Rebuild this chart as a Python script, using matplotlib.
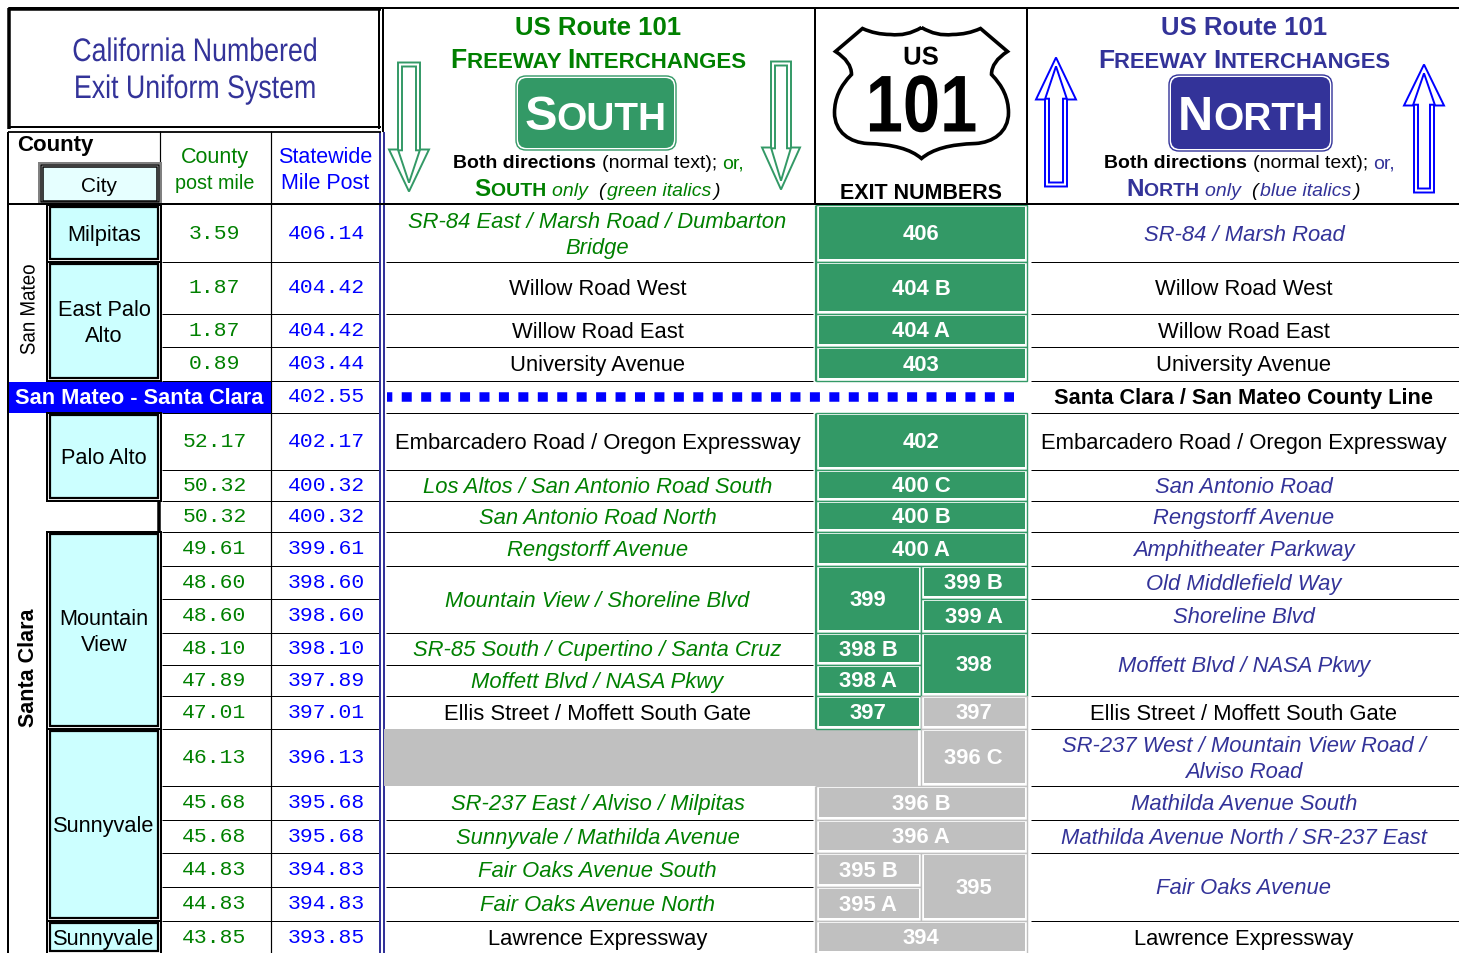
import matplotlib
matplotlib.use("Agg")
import matplotlib.pyplot as plt
import matplotlib.patheffects as pe
from matplotlib.patches import Rectangle, FancyBboxPatch, PathPatch, Polygon
from matplotlib.path import Path
from matplotlib.transforms import Affine2D

plt.rcParams['font.family'] = ['Liberation Sans', 'DejaVu Sans']
MONO = ['Liberation Mono', 'DejaVu Sans Mono']

GREEN = '#008000'
SIGN_GREEN = '#339966'
NAVY = '#333399'
BLUE = '#0000FF'
GRAY = '#C0C0C0'
CYAN = '#CCFFFF'

# table data, one entry per row
county_pm = ['3.59', '1.87', '1.87', '0.89', '', '52.17', '50.32', '50.32', '49.61', '48.60',
             '48.60', '48.10', '47.89', '47.01', '46.13', '45.68', '45.68', '44.83', '44.83', '43.85']
state_pm = ['406.14', '404.42', '404.42', '403.44', '402.55', '402.17', '400.32', '400.32', '399.61', '398.60',
            '398.60', '398.10', '397.89', '397.01', '396.13', '395.68', '395.68', '394.83', '394.83', '393.85']

# (first row, last row, text, colour)
south_labels = [
    (0, 0, 'SR-84 East / Marsh Road / Dumbarton\nBridge', 'g'),
    (1, 1, 'Willow Road West', 'k'),
    (2, 2, 'Willow Road East', 'k'),
    (3, 3, 'University Avenue', 'k'),
    (5, 5, 'Embarcadero Road / Oregon Expressway', 'k'),
    (6, 6, 'Los Altos / San Antonio Road South', 'g'),
    (7, 7, 'San Antonio Road North', 'g'),
    (8, 8, 'Rengstorff Avenue', 'g'),
    (9, 10, 'Mountain View / Shoreline Blvd', 'g'),
    (11, 11, 'SR-85 South / Cupertino / Santa Cruz', 'g'),
    (12, 12, 'Moffett Blvd / NASA Pkwy', 'g'),
    (13, 13, 'Ellis Street / Moffett South Gate', 'k'),
    (15, 15, 'SR-237 East / Alviso / Milpitas', 'g'),
    (16, 16, 'Sunnyvale / Mathilda Avenue', 'g'),
    (17, 17, 'Fair Oaks Avenue South', 'g'),
    (18, 18, 'Fair Oaks Avenue North', 'g'),
    (19, 19, 'Lawrence Expressway', 'k'),
]
north_labels = [
    (0, 0, 'SR-84 / Marsh Road', 'b'),
    (1, 1, 'Willow Road West', 'k'),
    (2, 2, 'Willow Road East', 'k'),
    (3, 3, 'University Avenue', 'k'),
    (5, 5, 'Embarcadero Road / Oregon Expressway', 'k'),
    (6, 6, 'San Antonio Road', 'b'),
    (7, 7, 'Rengstorff Avenue', 'b'),
    (8, 8, 'Amphitheater Parkway', 'b'),
    (9, 9, 'Old Middlefield Way', 'b'),
    (10, 10, 'Shoreline Blvd', 'b'),
    (11, 12, 'Moffett Blvd / NASA Pkwy', 'b'),
    (13, 13, 'Ellis Street / Moffett South Gate', 'k'),
    (14, 14, 'SR-237 West / Mountain View Road /\nAlviso Road', 'b'),
    (15, 15, 'Mathilda Avenue South', 'b'),
    (16, 16, 'Mathilda Avenue North / SR-237 East', 'b'),
    (17, 18, 'Fair Oaks Avenue', 'b'),
    (19, 19, 'Lawrence Expressway', 'k'),
]
# (first row, last row, column, text, colour)
exit_cells = [
    (0, 0, 'full', '406', SIGN_GREEN),
    (1, 1, 'full', '404 B', SIGN_GREEN),
    (2, 2, 'full', '404 A', SIGN_GREEN),
    (3, 3, 'full', '403', SIGN_GREEN),
    (5, 5, 'full', '402', SIGN_GREEN),
    (6, 6, 'full', '400 C', SIGN_GREEN),
    (7, 7, 'full', '400 B', SIGN_GREEN),
    (8, 8, 'full', '400 A', SIGN_GREEN),
    (9, 10, 'left', '399', SIGN_GREEN),
    (9, 9, 'right', '399 B', SIGN_GREEN),
    (10, 10, 'right', '399 A', SIGN_GREEN),
    (11, 11, 'left', '398 B', SIGN_GREEN),
    (12, 12, 'left', '398 A', SIGN_GREEN),
    (11, 12, 'right', '398', SIGN_GREEN),
    (13, 13, 'left', '397', SIGN_GREEN),
    (13, 13, 'right', '397', GRAY),
    (14, 14, 'right', '396 C', GRAY),
    (15, 15, 'full', '396 B', GRAY),
    (16, 16, 'full', '396 A', GRAY),
    (17, 17, 'left', '395 B', GRAY),
    (18, 18, 'left', '395 A', GRAY),
    (17, 18, 'right', '395', GRAY),
    (19, 19, 'full', '394', GRAY),
]
# (first row, last row, name)
cities = [
    (0, 0, 'Milpitas'),
    (1, 3, 'East Palo\nAlto'),
    (5, 6, 'Palo Alto'),
    (8, 13, 'Mountain\nView'),
    (14, 18, 'Sunnyvale'),
    (19, 19, 'Sunnyvale'),
]

# layout in pixels
row_edges = [205, 262, 314, 347, 381, 413, 470, 501, 532, 566, 599, 633, 665, 696, 729, 786, 820, 853, 887, 921, 954]
exit_cols = {'full': (815.5, 1026.5), 'left': (815.5, 920.5), 'right': (920.5, 1026.5)}
text_color = {'g': GREEN, 'b': NAVY, 'k': 'black'}

fig = plt.figure(figsize=(14.59, 9.54), dpi=100)
ax = fig.add_axes([0, 0, 1, 1])
ax.set_xlim(-0.5, 1458.5)
ax.set_ylim(953.5, -0.5)
ax.axis('off')
renderer = fig.canvas.get_renderer()


class Squeeze(pe.AbstractPathEffect):
    # the reference uses condensed lettering, no narrow font is installed
    def __init__(self, cx, cy, sx=1.0, sy=1.0):
        super().__init__()
        self.cx, self.cy, self.sx, self.sy = cx + 0.5, 954 - cy - 0.5, sx, sy

    def draw_path(self, rend, gc, tpath, affine, rgbFace=None):
        squeeze = Affine2D().translate(-self.cx, -self.cy).scale(self.sx, self.sy).translate(self.cx, self.cy)
        rend.draw_path(gc, tpath, affine + squeeze, rgbFace)


def squeezed(x, y, s, sx=1.0, sy=1.0, **kw):
    t = ax.text(x, y, s, ha='center', va='center', zorder=5, **kw)
    t.set_path_effects([Squeeze(x, y, sx, sy)])
    return t


def hline(y, x0, x1, lw=1.0, c='black', z=3):
    ax.plot([x0, x1], [y, y], color=c, lw=lw * 0.72, solid_capstyle='butt', zorder=z)


def vline(x, y0, y1, lw=1.0, c='black', z=3):
    ax.plot([x, x], [y0, y1], color=c, lw=lw * 0.72, solid_capstyle='butt', zorder=z)


def text_width(s, **kw):
    t = ax.text(0, 0, 'x' + s + 'x', **kw)
    w = t.get_window_extent(renderer).width
    t.set_text('xx')
    w -= t.get_window_extent(renderer).width
    t.remove()
    return w


def rich_line(cx, y, pieces):
    # pieces of one baseline: (text, size, colour, weight, style)
    widths = [text_width(p[0], fontsize=p[1], fontweight=p[3], fontstyle=p[4]) for p in pieces]
    x = cx - sum(widths) / 2
    for p, w in zip(pieces, widths):
        ax.text(x, y, p[0], fontsize=p[1], color=p[2], fontweight=p[3], fontstyle=p[4],
                ha='left', va='baseline', zorder=6)
        x += w


def small_caps(cap, rest, big, small, color):
    return [(cap, big, color, 'bold', 'normal'), (rest, small, color, 'bold', 'normal')]


def arrow(cx, top, tip, head, shaft, wing, color):
    sign = 1 if tip > top else -1
    for d in (0, 4):
        s = shaft - d
        w = wing - d * 2.3
        pts = [(cx - s, top + sign * d), (cx + s, top + sign * d), (cx + s, head + sign * d * 0.2),
               (cx + w, head + sign * d * 0.2), (cx, tip - sign * d * 2.2),
               (cx - w, head + sign * d * 0.2), (cx - s, head + sign * d * 0.2)]
        ax.add_patch(Polygon(pts, closed=True, fc='white', ec=color, lw=1.4, zorder=4))


def sign(x0, y0, x1, y1, fc, cap, rest, ctext):
    ax.add_patch(FancyBboxPatch((x0, y0), x1 - x0, y1 - y0, boxstyle='round,pad=0,rounding_size=10',
                                fc='white', ec=fc, lw=1.0, zorder=4))
    ax.add_patch(FancyBboxPatch((x0 + 2, y0 + 2), x1 - x0 - 4, y1 - y0 - 4, boxstyle='round,pad=0,rounding_size=9',
                                fc=fc, ec='none', zorder=4))
    rich_line(ctext, 130, small_caps(cap, rest, 35, 28, 'white'))


# row separators
for i, y in enumerate(row_edges[1:-1], start=1):
    hline(y, 161, 378)
    south_merged = any(r[0] < i <= r[1] for r in south_labels)
    north_merged = any(r[0] < i <= r[1] for r in north_labels)
    if not south_merged and i != 15:
        hline(y, 385, 812)
    if not north_merged:
        hline(y, 1030, 1459)

# grey block in the 396 C row
ax.add_patch(Rectangle((383, row_edges[14]), 430, row_edges[15] - row_edges[14], fc=GRAY, ec='none', zorder=3.5))
ax.add_patch(Rectangle((812, row_edges[14]), 105.5, row_edges[15] - row_edges[14], fc=GRAY, ec='none', zorder=3.5))

# frame lines
hline(8.5, 8, 1459, 2)
hline(204.5, 8, 1459, 2, z=5)
vline(7.5, 132, 954, 2)
vline(159, 131, 205, 1.2)
vline(270, 131, 954, 1.2)
vline(814.5, 9, 205, 2)
vline(1026.5, 9, 205, 2)
vline(382, 9, 132, 2)
vline(379, 132, 954, 2, NAVY)
vline(383, 132, 954, 2, NAVY)
vline(814.5, 205, 381, 1.2, SIGN_GREEN)
vline(814.5, 413, 729, 1.2, SIGN_GREEN)
vline(814.5, 786, 954, 1.2, GRAY)

# title box
hline(9.5, 7, 380, 3.5)
vline(8.5, 8, 129, 3.5)
vline(378.5, 9, 129, 2)
hline(127.8, 7, 380, 2)
hline(132, 7, 380, 1.8)
squeezed(194.5, 53, 'California Numbered', sx=0.82, fontsize=23.5, color=NAVY)
squeezed(194.5, 90, 'Exit Uniform System', sx=0.82, fontsize=23.5, color=NAVY)

# column headers
ax.text(17, 145, 'County', fontsize=16, fontweight='bold', ha='left', va='center')
ax.add_patch(Rectangle((38.5, 163), 122, 41, fc='white', ec='#808080', lw=2 * 0.72, zorder=3))
ax.add_patch(Rectangle((40.5, 165), 118, 37, fc='white', ec='black', lw=1.5 * 0.72, zorder=3))
ax.add_patch(Rectangle((42.5, 167), 114, 34, fc='#E6FFFF', ec='black', lw=1.5 * 0.72, zorder=3))
ax.text(99, 186.5, 'City', fontsize=15, ha='center', va='center', zorder=5)
ax.text(214, 157.5, 'County', fontsize=15.5, color=GREEN, ha='center', va='center')
ax.text(214, 183, 'post mile', fontsize=14.2, color=GREEN, ha='center', va='center')
ax.text(324.5, 157, 'Statewide', fontsize=15.5, color=BLUE, ha='center', va='center')
ax.text(324.5, 183, 'Mile Post', fontsize=15.5, color=BLUE, ha='center', va='center')

# south header
rich_line(598, 34.5, [('US Route 101', 18.5, GREEN, 'bold', 'normal')])
rich_line(598, 68, small_caps('F', 'REEWAY ', 19.2, 16, GREEN) + small_caps('I', 'NTERCHANGES', 19.2, 16, GREEN))
sign(515.5, 76.5, 675.5, 150.5, SIGN_GREEN, 'S', 'OUTH', 595)
rich_line(598, 168, [('Both directions ', 14, 'black', 'bold', 'normal'), ('(normal text); ', 14, 'black', 'normal', 'normal'),
                     ('or,', 14, GREEN, 'normal', 'normal')])
rich_line(597, 196, small_caps('S', 'OUTH ', 17.5, 14, GREEN) +
          [('only  ', 14, GREEN, 'normal', 'italic'), ('(', 14, 'black', 'normal', 'italic'), (' ', 6, 'black', 'normal', 'normal'),
           ('green italics', 14, GREEN, 'normal', 'italic'), (' ', 6, 'black', 'normal', 'normal'), (')', 14, 'black', 'normal', 'italic')])
arrow(408.5, 63, 192, 150, 11, 20, SIGN_GREEN)
arrow(780.5, 62, 190, 148, 10, 19, SIGN_GREEN)

# shield
shield_verts = [(921, 28), (906, 37), (890, 35), (875, 35), (862, 29), (835, 52), (851, 62), (851, 75),
                (834, 92), (834, 113), (834, 133), (850, 143), (867, 144), (905, 145), (921, 159),
                (937, 145), (975, 144), (992, 143), (1008, 133), (1008, 113), (1008, 92), (991, 75),
                (991, 62), (1007, 52), (980, 29), (967, 35), (952, 35), (936, 37), (921, 28)]
shield_codes = [Path.MOVETO, Path.CURVE3, Path.CURVE3, Path.CURVE3, Path.CURVE3, Path.LINETO, Path.CURVE3, Path.CURVE3,
                Path.CURVE3, Path.CURVE3, Path.CURVE4, Path.CURVE4, Path.CURVE4, Path.CURVE3, Path.CURVE3,
                Path.CURVE3, Path.CURVE3, Path.CURVE4, Path.CURVE4, Path.CURVE4, Path.CURVE3, Path.CURVE3,
                Path.CURVE3, Path.CURVE3, Path.LINETO, Path.CURVE3, Path.CURVE3, Path.CURVE3, Path.CURVE3]
ax.add_patch(PathPatch(Path(shield_verts, shield_codes), fc='white', ec='black', lw=2.6, zorder=4))
squeezed(920.5, 58, 'US', fontsize=18.5, fontweight='bold')
squeezed(921, 111, '101', sx=0.83, fontsize=58, fontweight='bold')
ax.text(920.5, 193, 'EXIT NUMBERS', fontsize=15.5, fontweight='bold', ha='center', va='center', zorder=5)

# north header
rich_line(1244, 34.5, [('US Route 101', 18.5, NAVY, 'bold', 'normal')])
rich_line(1244, 67, small_caps('F', 'REEWAY ', 19, 15.8, NAVY) + small_caps('I', 'NTERCHANGES', 19, 15.8, NAVY))
sign(1168.5, 75.5, 1331.5, 151.5, NAVY, 'N', 'ORTH', 1250)
rich_line(1249, 168, [('Both directions ', 14, 'black', 'bold', 'normal'), ('(normal text); ', 14, 'black', 'normal', 'normal'),
                      ('or,', 14, NAVY, 'normal', 'normal')])
rich_line(1243, 196, small_caps('N', 'ORTH ', 17.5, 14, NAVY) +
          [('only  ', 14, NAVY, 'normal', 'italic'), ('(', 14, 'black', 'normal', 'italic'), (' ', 6, 'black', 'normal', 'normal'),
           ('blue italics', 14, NAVY, 'normal', 'italic'), (' ', 6, 'black', 'normal', 'normal'), (')', 14, 'black', 'normal', 'italic')])
arrow(1055.5, 187, 58, 100, 11, 20, BLUE)
arrow(1423.5, 193, 65, 106, 10, 20, BLUE)

# county names and the county line row
squeezed(28.5, 310, 'San Mateo', sy=0.9, fontsize=15, rotation=90)
ax.text(28.5, 667, 'Santa Clara', fontsize=15.5, fontweight='bold', rotation=90, ha='center', va='center')
ax.add_patch(Rectangle((8.5, row_edges[4] + 1), 261.5, row_edges[5] - row_edges[4] - 1, fc=BLUE, ec='none', zorder=3.2))
ax.text(138.5, 398.5, 'San Mateo - Santa Clara', fontsize=15.7, fontweight='bold', color='white', ha='center', va='center', zorder=5)
ax.plot([386.5, 1013.5], [397.2, 397.2], color=BLUE, lw=9.5 * 0.72, linestyle=(0.495, (1.053, 0.993)),
        dash_capstyle='butt', zorder=4)
ax.text(1243.5, 398.5, 'Santa Clara / San Mateo County Line', fontsize=15.7, fontweight='bold', ha='center', va='center', zorder=5)

# city cells
for first, last, name in cities:
    y0, y1 = row_edges[first], row_edges[last + 1]
    ax.add_patch(Rectangle((46, y0), 114, y1 - y0, fc='white', ec='black', lw=2 * 0.72, zorder=3.3))
    ax.add_patch(Rectangle((49.5, y0 + 2.5), 107.5, y1 - y0 - 5, fc=CYAN, ec='black', lw=2.2 * 0.72, zorder=3.3))
    ax.text(103.5, (y0 + y1) / 2 + 1.5, name, fontsize=15.7, linespacing=1.3, ha='center', va='center', zorder=5)
vline(158.5, row_edges[7], row_edges[8], 3.5)

# mile posts
for i, (cp, sp) in enumerate(zip(county_pm, state_pm)):
    yc = (row_edges[i] + row_edges[i + 1]) / 2 - 0.5
    if cp:
        ax.text(214, yc, cp, family=MONO, fontsize=15.4, color=GREEN, ha='center', va='center', zorder=5)
    ax.text(326, yc, sp, family=MONO, fontsize=15.4, color=BLUE, ha='center', va='center', zorder=5)

# interchange names
for labels, cx in ((south_labels, 597), (north_labels, 1243.5)):
    for first, last, name, kind in labels:
        yc = (row_edges[first] + row_edges[last + 1]) / 2 + 1.5
        style = 'normal' if kind == 'k' else 'italic'
        ax.text(cx, yc, name, fontsize=15.8, fontstyle=style, color=text_color[kind], linespacing=1.3,
                ha='center', va='center', zorder=5)

# exit numbers
for first, last, col, label, color in exit_cells:
    x0, x1 = exit_cols[col]
    y0, y1 = row_edges[first], row_edges[last + 1]
    ax.add_patch(Rectangle((x0, y0), x1 - x0, y1 - y0, fc='white', ec=color, lw=1.0, zorder=3.6))
    ax.add_patch(Rectangle((x0 + 2.5, y0 + 2.5), x1 - x0 - 5, y1 - y0 - 5, fc=color, ec='none', zorder=3.7))
    ax.text((x0 + x1) / 2 - 0.5, (y0 + y1) / 2 + 1, label, fontsize=15.8, fontweight='bold', color='white',
            ha='center', va='center', zorder=5)

fig.savefig('out.png', dpi=100, facecolor='white')
